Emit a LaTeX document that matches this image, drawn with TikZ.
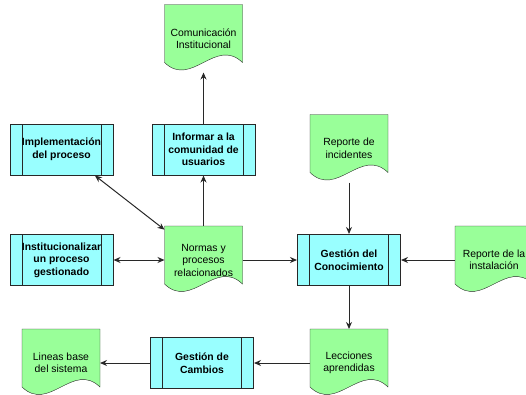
\documentclass[tikz,border=0pt]{standalone}
\usepackage{fontspec}
\setmainfont{Liberation Sans}
\usetikzlibrary{arrows.meta,calc,backgrounds}

\definecolor{verdedoc}{RGB}{153,255,153}
\definecolor{cianproc}{RGB}{153,255,255}
\definecolor{linea}{RGB}{40,40,40}

\tikzset{every picture/.style={line width=1pt}}
\tikzset{
  proceso/.style={draw=linea,fill=cianproc,minimum width=103pt,minimum height=51pt,inner sep=0pt,align=center,
    font=\fontsize{10.4}{12.5}\selectfont\bfseries,
    path picture={\draw[linea] ($(path picture bounding box.north west)+(12,0)$) -- ($(path picture bounding box.south west)+(12,0)$)
      ($(path picture bounding box.north east)+(-12,0)$) -- ($(path picture bounding box.south east)+(-12,0)$);}},
  documento/.style={minimum width=77pt,minimum height=67pt,inner sep=0pt,align=center,
    font=\fontsize{10.4}{12.5}\selectfont},
  flecha/.style={draw=linea,-{Stealth[length=7pt,width=6pt]}},
  dobleflecha/.style={draw=linea,{Stealth[length=7pt,width=6pt]}-{Stealth[length=7pt,width=6pt]}}
}

% hoja con borde ondulado detras del nodo
\newcommand{\formadoc}[1]{%
  \begin{scope}[on background layer]
    \filldraw[draw=linea,fill=verdedoc] (#1.north west) -- (#1.north east) -- ($(#1.south east)+(0,-10)$)
      .. controls ($(#1.south east)+(-27,-36)$) and ($(#1.south west)+(27,16)$) .. ($(#1.south west)+(0,-10)$) -- cycle;
  \end{scope}}

\begin{document}
\begin{tikzpicture}[x=1pt,y=1pt,yscale=-1,xscale=1]
\useasboundingbox (0,0) rectangle (526,394);

% procesos
\node[proceso] (implementacion) at (61.5,149.5) {Implementación\\del proceso};
\node[proceso] (informar) at (203.5,149.5) {Informar a la\\comunidad de\\usuarios};
\node[proceso] (institucionalizar) at (61.5,260) {Institucionalizar\\un proceso\\gestionado};
\node[proceso] (conocimiento) at (349,260) {Gestión del\\Conocimiento};
\node[proceso] (cambios) at (202,363) {Gestión de\\Cambios};

% documentos
\node[documento] (comunicacion) at (203.5,38.5) {Comunicación\\Institucional};
\node[documento] (normas) at (203.5,260) {Normas y\\procesos\\relacionados};
\node[documento] (incidentes) at (349,148.5) {Reporte de\\incidentes};
\node[documento] (instalacion) at (494,260) {Reporte de la\\instalación};
\node[documento] (lecciones) at (349,363) {Lecciones\\aprendidas};
\node[documento] (lineas) at (61,363) {Lineas base\\del sistema};

\formadoc{comunicacion}
\formadoc{normas}
\formadoc{incidentes}
\formadoc{instalacion}
\formadoc{lecciones}
\formadoc{lineas}

% conectores
\draw[flecha] (normas) -- (informar);
\draw[flecha] (informar) -- (comunicacion);
\draw[dobleflecha] (implementacion) -- (normas);
\draw[dobleflecha] (institucionalizar) -- (normas);
\draw[flecha] (normas) -- (conocimiento);
\draw[flecha] (incidentes) -- (conocimiento);
\draw[flecha] (instalacion) -- (conocimiento);
\draw[flecha] (conocimiento) -- (lecciones);
\draw[flecha] (lecciones) -- (cambios);
\draw[flecha] (cambios) -- (lineas);

\end{tikzpicture}
\end{document}
